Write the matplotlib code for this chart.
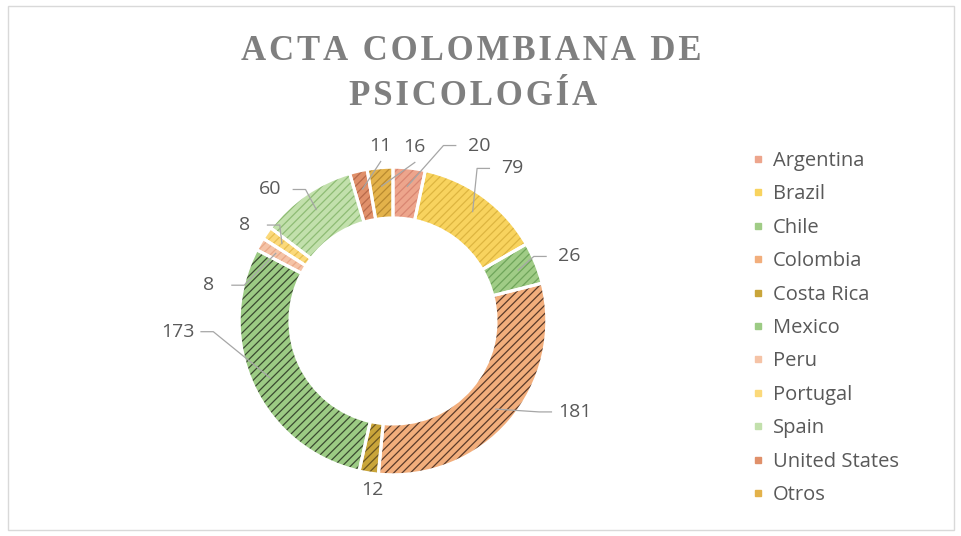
import numpy as np
import matplotlib.pyplot as plt
from matplotlib.lines import Line2D
from matplotlib.patches import Rectangle

countries = ['Argentina', 'Brazil', 'Chile', 'Colombia', 'Costa Rica', 'Mexico',
             'Peru', 'Portugal', 'Spain', 'United States', 'Otros']
counts = [20, 79, 26, 181, 12, 173, 8, 8, 60, 11, 16]

face_colors = ['#EDA58C', '#F8D35E', '#A0CC86', '#F2AE7C', '#C9A53A', '#9CCB84',
               '#F5C3A6', '#FBD97A', '#C2E0AC', '#E0906A', '#E3B24A']
hatch_colors = ['#D98672', '#DDB540', '#6FA55A', '#5A3A2A', '#6A5520', '#3A4A30',
                '#E9A888', '#E8BE50', '#8EBC74', '#B86A4A', '#B88A30']
# label layout: angular nudge (deg, clockwise) and radius, like Excel's placement
label_nudge = [20, 2, 2, -14, -2, 22, -19, -2, -8.5, 9, 12]
label_rad = [1.27, 1.26, 1.22, 1.32, 1.11, 1.40, 1.22, 1.15, 1.17, 1.14, 1.14]

plt.rc('font', family='Open Sans')
plt.rc('hatch', linewidth=0.9)
txt_col = '#595959'

fig = plt.figure(figsize=(9.61, 5.36), dpi=100)
fig.patches.append(Rectangle((8/961, 6/536), 946/961, 524/536, transform=fig.transFigure,
                             fill=False, edgecolor='#D9D9D9', linewidth=1))

ax = fig.add_axes([150/961, -28/536, 486/961, 486/536])

kw = dict(startangle=90, counterclock=False, radius=1.0)
ring = dict(width=0.33)
ax.pie(counts, colors=face_colors, wedgeprops=dict(ring, linewidth=0), **kw)
wedges, _ = ax.pie(counts, colors=['none'] * len(counts),
                   wedgeprops=dict(ring, linewidth=0), **kw)
for w, hc in zip(wedges, hatch_colors):
    w.set_hatch('////')
    w.set_edgecolor(hc)
ax.pie(counts, colors=['none'] * len(counts),
       wedgeprops=dict(ring, linewidth=2.2, edgecolor='white'), **kw)
ax.set_xlim(-1.58, 1.58)
ax.set_ylim(-1.58, 1.58)
ax.set_aspect('equal')
ax.axis('off')

total = sum(counts)
cum = np.cumsum([0] + counts)
for i, v in enumerate(counts):
    mid = (cum[i] + cum[i + 1]) / 2 / total * 360
    a0 = np.deg2rad(90 - mid)
    px, py = 0.88 * np.cos(a0), 0.88 * np.sin(a0)
    a1 = np.deg2rad(90 - (mid + label_nudge[i]))
    lx, ly = label_rad[i] * np.cos(a1), label_rad[i] * np.sin(a1)
    ax.text(lx, ly, str(v), ha='center', va='center', fontsize=14, color=txt_col)
    if abs(lx) > 0.35:
        s = np.sign(lx)
        ex = lx - s * 0.15
        ax.plot([px, ex - s * 0.08, ex], [py, ly, ly], color='#A6A6A6', lw=0.9)
    elif ly > 0:
        ax.plot([px, lx], [py, ly - 0.1], color='#A6A6A6', lw=0.9)

hs = '\u200a'
title_font = ['Liberation Serif', 'DejaVu Serif']
fig.text(0.49, 0.9044, hs.join('ACTA COLOMBIANA DE'), ha='center', va='center',
         fontsize=25, fontweight='bold', family=title_font, color='#7F7F7F')
fig.text(0.4925, 0.8204, hs.join('PSICOLOGÍA'), ha='center', va='center',
         fontsize=25, fontweight='bold', family=title_font, color='#7F7F7F')

handles = [Line2D([], [], marker='s', linestyle='none', markersize=5,
                  markerfacecolor=c, markeredgecolor=c) for c in face_colors]
fig.legend(handles, countries, loc='upper left', bbox_to_anchor=(745/961, 1 - 143/536),
           frameon=False, fontsize=14.5, labelcolor=txt_col, handlelength=0.5,
           handletextpad=0.5, labelspacing=0.665, borderaxespad=0)

fig.savefig('out.png', dpi=100)
